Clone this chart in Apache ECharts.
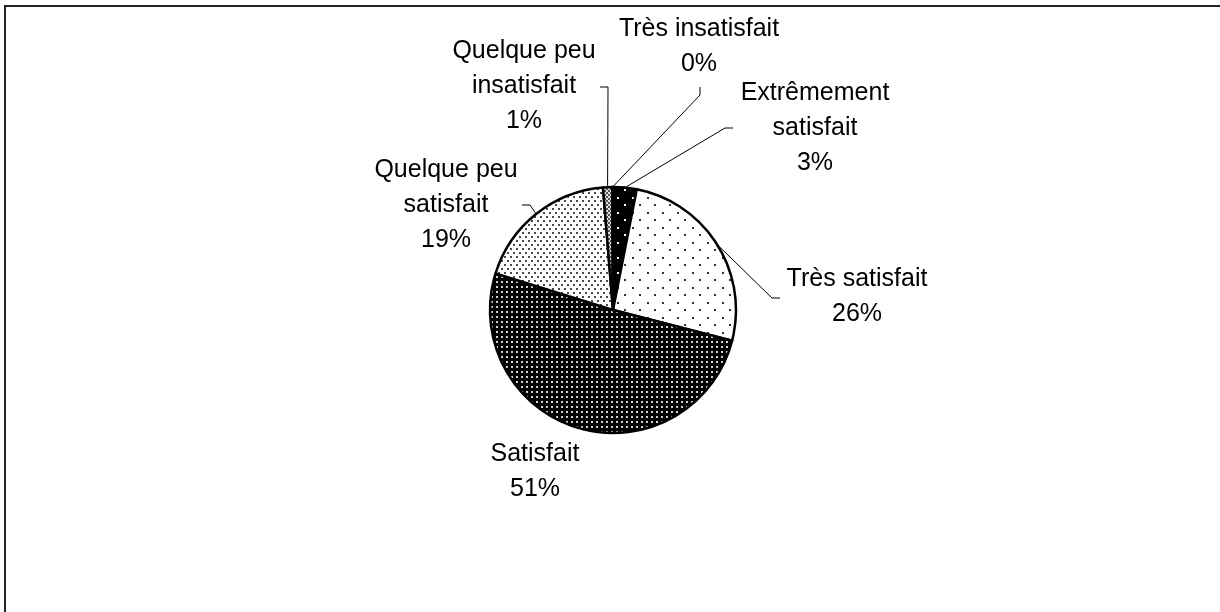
<!DOCTYPE html>
<html>
<head>
<meta charset="utf-8">
<script src="https://cdn.jsdelivr.net/npm/echarts@6/dist/echarts.min.js"></script>
<style>
  html, body { margin: 0; padding: 0; background: #fff; }
  #chart { width: 1220px; height: 612px; }
</style>
</head>
<body>
<div id="chart"></div>
<script>
  // satisfaction shares, clockwise from 12 o'clock
  const categories = ['Extrêmement\nsatisfait', 'Très satisfait', 'Satisfait', 'Quelque peu\nsatisfait', 'Quelque peu\ninsatisfait', 'Très insatisfait'];
  const shares = [3.1, 25.9, 50.8, 18.9, 1.2, 0.1];

  // where each label sits (text block centre) and the bend / end of its leader line
  const labelPlaces = [
    { x: 815, y: 128, line: [[725, 128], [733, 128]] },
    { x: 857, y: 297, line: [[772, 298], [780, 298]] },
    { x: 535, y: 472, line: null },
    { x: 446, y: 205, line: [[530, 205], [522, 205]] },
    { x: 524, y: 86, line: [[608, 87], [600, 87]] },
    { x: 699, y: 47, line: [[700, 95], [700, 87]] }
  ];

  // black & white fill patterns, like the old excel print styles
  function makePattern(w, h, bg, dotColor, dotSize, dots) {
    let c = document.createElement('canvas');
    c.width = w;
    c.height = h;
    let ctx = c.getContext('2d');
    ctx.fillStyle = bg;
    ctx.fillRect(0, 0, w, h);
    ctx.fillStyle = dotColor;
    dots.forEach(d => ctx.fillRect(d[0], d[1], dotSize, dotSize));
    return { image: c, repeat: 'repeat' };
  }

  const fills = [
    makePattern(15, 15, '#000', '#fff', 2, [[2, 2], [9, 9]]),
    makePattern(15, 15, '#fff', '#333', 2, [[2, 2], [9, 9]]),
    makePattern(5, 5, '#000', '#d0d0d0', 2, [[1, 1]]),
    makePattern(6, 8, '#fff', '#4a4a4a', 2, [[0, 0], [3, 4]]),
    makePattern(4, 4, '#555', '#e0e0e0', 2, [[0, 0], [2, 2]]),
    makePattern(4, 4, '#fff', '#333', 1, [[0, 0], [2, 2]])
  ];

  let pieData = [];
  for (let i = 0; i < shares.length; i++) {
    pieData.push({
      name: categories[i],
      value: shares[i],
      itemStyle: { color: fills[i] },
      labelLine: { show: labelPlaces[i].line != null }
    });
  }

  let myChart = echarts.init(document.getElementById('chart'));
  myChart.setOption({
    animation: false,
    graphic: [{
      type: 'rect',
      shape: { x: 5, y: 6, width: 1300, height: 700 },
      style: { fill: 'none', stroke: '#222', lineWidth: 2 },
      silent: true
    }],
    series: [{
      type: 'pie',
      center: [613, 310],
      radius: 123,
      startAngle: 90,
      clockwise: true,
      avoidLabelOverlap: false,
      percentPrecision: 0,
      itemStyle: { borderColor: '#000', borderWidth: 2.5 },
      emphasis: { disabled: true },
      label: {
        show: true,
        position: 'outside',
        formatter: '{b}\n{d}%',
        fontFamily: 'Liberation Sans, Arial, sans-serif',
        fontSize: 25,
        lineHeight: 35,
        color: '#000'
      },
      labelLine: {
        show: true,
        lineStyle: { color: '#000', width: 1 }
      },
      labelLayout: function (params) {
        let place = labelPlaces[params.dataIndex];
        let out = { x: place.x, y: place.y, align: 'center', verticalAlign: 'middle' };
        if (place.line && params.labelLinePoints) {
          out.labelLinePoints = [params.labelLinePoints[0]].concat(place.line);
        }
        return out;
      },
      data: pieData
    }]
  });
</script>
</body>
</html>
